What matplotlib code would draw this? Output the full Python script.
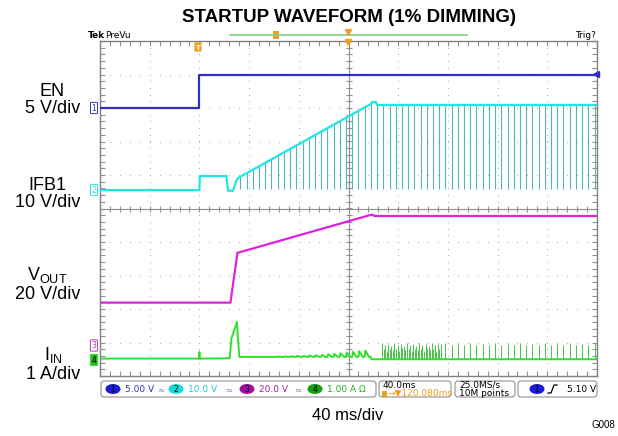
import numpy as np
import matplotlib.pyplot as plt
from matplotlib.patches import FancyBboxPatch, Ellipse, Rectangle

plt.rcParams['mathtext.fontset'] = 'custom'
plt.rcParams['mathtext.rm'] = 'Liberation Sans'

# time base: ms relative to trigger, 40 ms/div, 10 div on screen
t_left, t_right = -80, 320
ms_per_div = 40

# channel scale (units/div) and ground position (div from centre)
ch_scale = {"EN": 5.0, "IFB1": 10.0, "VOUT": 20.0, "IIN": 1.0}
ch_ground = {"EN": 3.0, "IFB1": 0.55, "VOUT": -4.1, "IIN": -4.5}
ch_color = {"EN": "#2f2fc4", "IFB1": "#1ee6e6", "VOUT": "#e020e0", "IIN": "#2ee02e"}

# EN (V)
en_t = [-80, 0, 0, 320]
en_v = [0, 0, 5.0, 5.0]

# IFB1 envelope (V)
ifb_t = [-80, 0, 0.3, 21.7, 23.1, 27.1, 28.5, 30.0, 31.1, 138, 139, 142, 143, 320]
ifb_v = [0, 0, 4.2, 4.2, -0.2, -0.2, 1.5, 3.0, 3.6, 25.7, 26.3, 26.3, 25.4, 25.4]
# PWM dimming notches on IFB1 (ms)
ifb_notch_t = [33, 38, 43, 48, 53, 58, 63, 68, 73, 78, 83, 88, 93, 98, 103, 108,
               113, 118, 123, 128, 133, 138, 143, 148, 153, 158, 163, 168, 173,
               178, 183, 188, 193, 198, 203, 208, 213, 218, 223, 228, 233, 238,
               243, 248, 253, 258, 263, 268, 273, 278, 283, 288, 293, 298, 303,
               308, 313, 318]
ifb_notch_low = 0.3

# VOUT (V)
vout_t = [-80, 25, 30.6, 137, 139, 141, 320]
vout_v = [25.8, 25.8, 55.5, 78.0, 78.3, 77.5, 77.5]

# IIN (A): start-up inrush
iin_t = [-80, -0.4, 0, 0.4, 24.4, 25.8, 30.3, 31.0, 32.2, 137.8, 138.4, 320]
iin_a = [0.02, 0.02, 0.22, 0.02, 0.03, 0.63, 1.11, 0.6, 0.07, 0.07, 0.0, 0.0]
# ripple teeth on IIN during soft start (ms, peak A)
iin_tooth_t = [63, 68, 73, 78, 83, 88, 93, 98, 103, 108, 113, 118, 123, 128, 133]
iin_tooth_a = [0.08, 0.085, 0.09, 0.1, 0.1, 0.11, 0.12, 0.13, 0.15, 0.16, 0.18,
               0.2, 0.22, 0.24, 0.26]
iin_base = 0.07
# inrush spikes on IIN once dimming runs (ms, A)
iin_spike_t = [147.0, 148.3, 149.5, 150.8, 152.0, 153.2, 154.5, 155.8, 157.0,
               158.3, 159.5, 160.8, 162.0, 163.2, 164.5, 165.8, 167.0, 168.3,
               169.5, 170.8, 172.0, 173.2, 174.5, 175.8, 177.0, 178.3, 179.5,
               180.8, 182.0, 183.2, 184.5, 185.8, 187.0, 188.3, 189.5, 190.8,
               192.0, 193.2, 194.5,
               198, 203, 208, 213, 218, 223, 228, 233, 238, 243, 248, 253, 258,
               263, 268, 273, 278, 283, 288, 293, 298, 303, 308, 313, 318]
iin_spike_a = [0.48, 0.3, 0.42, 0.25, 0.47, 0.32, 0.4, 0.28, 0.48, 0.3, 0.44,
               0.26, 0.47, 0.33, 0.4, 0.28, 0.48, 0.3, 0.43, 0.25, 0.47, 0.32,
               0.4, 0.28, 0.48, 0.3, 0.44, 0.26, 0.47, 0.33, 0.4, 0.28, 0.48,
               0.3, 0.43, 0.25, 0.47, 0.32, 0.45,
               0.48, 0.44, 0.47, 0.42, 0.48, 0.44, 0.47, 0.42, 0.48, 0.44, 0.47,
               0.42, 0.48, 0.44, 0.47, 0.42, 0.48, 0.44, 0.47, 0.42, 0.48, 0.44,
               0.47, 0.42, 0.48]


def to_div(ch, vals):
    return ch_ground[ch] + np.asarray(vals, dtype=float) / ch_scale[ch]


fig = plt.figure(figsize=(6.18, 4.36), dpi=100)
ax = fig.add_axes([100 / 618, 1 - 376 / 436, 497 / 618, 335 / 436])
ax.set_xlim(t_left, t_right)
ax.set_ylim(-5, 5)

# graticule
grid_c = "#b4b4b4"
xs_minor = np.arange(t_left, t_right + 0.1, ms_per_div / 5)
ys_minor = np.arange(-5, 5.01, 0.2)
for k in range(1, 10):
    x = t_left + k * ms_per_div
    if k == 5:
        continue
    ax.plot([x] * len(ys_minor), ys_minor, ls="none", marker="s", ms=0.8,
            color=grid_c, mew=0)
for k in range(-4, 5):
    if k == 0:
        continue
    ax.plot(xs_minor, [k] * len(xs_minor), ls="none", marker="s", ms=0.8,
            color=grid_c, mew=0)
x_mid = (t_left + t_right) / 2
ax.axvline(x_mid, color="#909090", lw=0.8)
ax.axhline(0, color="#909090", lw=0.8)
ax.plot([x_mid] * len(ys_minor), ys_minor, ls="none", marker="_", ms=5,
        color="#909090", mew=0.8)
ax.plot(xs_minor, [0] * len(xs_minor), ls="none", marker="|", ms=5,
        color="#909090", mew=0.8)
ax.set_xticks(np.arange(t_left, t_right + 1, ms_per_div))
ax.set_yticks(np.arange(-5, 6, 1))
ax.set_xticks(xs_minor, minor=True)
ax.set_yticks(ys_minor, minor=True)
ax.tick_params(which="both", direction="in", length=3.5, width=0.8,
               color="#909090", top=True, right=True, labelleft=False,
               labelbottom=False)
for s in ax.spines.values():
    s.set_color("#808080")
    s.set_linewidth(1.0)

# traces
ax.plot(en_t, to_div("EN", en_v), color=ch_color["EN"], lw=1.6, zorder=5)
ifb_y = to_div("IFB1", ifb_v)
ifb_top = np.interp(ifb_notch_t, ifb_t, ifb_y)
ax.vlines(ifb_notch_t, to_div("IFB1", [ifb_notch_low]), ifb_top,
          color="#58b4b4", lw=0.8, zorder=4)
ax.plot(ifb_t, ifb_y, color=ch_color["IFB1"], lw=1.6, zorder=5)
ax.plot(vout_t, to_div("VOUT", vout_v), color=ch_color["VOUT"], lw=1.6, zorder=5)

# IIN: base trace with ripple teeth inserted at the read tooth positions
tt, aa = list(iin_t[:9]), list(iin_a[:9])
for t0, a0 in zip(iin_tooth_t, iin_tooth_a):
    tt += [t0, t0 + 0.6, t0 + 3.5]
    aa += [iin_base, a0, iin_base]
tt += iin_t[9:]
aa += iin_a[9:]
ax.vlines(iin_spike_t, to_div("IIN", [0.0]), to_div("IIN", iin_spike_a),
          color="#48c448", lw=0.7, zorder=4)
ax.plot(tt, to_div("IIN", aa), color=ch_color["IIN"], lw=1.4, zorder=5)
# trigger level marker on EN
ax.plot([t_right - 1], [to_div("EN", [5.1])[0]], marker="<", ms=4,
        color=ch_color["EN"], clip_on=False, zorder=6)

# overlay in pixel coordinates for scope read-outs and labels
ov = fig.add_axes([0, 0, 1, 1], zorder=10)
ov.set_xlim(0, 618)
ov.set_ylim(436, 0)
ov.axis("off")
ov.patch.set_alpha(0)

lab = dict(family="Liberation Sans", color="black")
ov.text(349, 18, "STARTUP WAVEFORM (1% DIMMING)", ha="center", va="center",
        fontsize=13.5, weight="bold", **lab)
for txt, yc in [("EN\n5 V/div", 100), ("IFB1\n10 V/div", 194),
                ("V$_{\\mathregular{OUT}}$\n20 V/div", 284),
                ("I$_{\\mathregular{IN}}$\n1 A/div", 364)]:
    ov.text(80, yc, txt, ha="right", va="center", multialignment="center",
            fontsize=13, linespacing=1.05, **lab)
ov.text(348, 415, "40 ms/div", ha="center", va="center", fontsize=12, **lab)
ov.text(603, 425, "G008", ha="center", va="center", fontsize=7, **lab)

# top read-out
ov.text(88, 35, "Tek", ha="left", va="center", fontsize=6.5, weight="bold")
ov.text(105, 35, "PreVu", ha="left", va="center", fontsize=6.5)
ov.text(596, 35, "Trig?", ha="right", va="center", fontsize=6.5)
ov.plot([230, 467], [35, 35], color="#7fd07f", lw=1.2)
orange = "#f0a020"
ov.add_patch(FancyBboxPatch((273.5, 31.5), 5, 7, boxstyle="round,pad=0.5",
                            fc=orange, ec="none"))
ov.plot([348], [32], marker="v", ms=4, color=orange)
ov.plot([348], [42], marker="v", ms=4, color=orange)
ov.add_patch(FancyBboxPatch((195, 43), 6, 8, boxstyle="round,pad=0.6",
                            fc=orange, ec="none"))
ov.text(198, 47.5, "T", ha="center", va="center", fontsize=5, color="white",
        weight="bold")

# channel ground markers
for num, ch, y in [("1", "EN", 108), ("2", "IFB1", 190), ("3", "VOUT", 345.5),
                   ("4", "IIN", 360)]:
    c = ch_color[ch] if ch != "VOUT" else "#b040b0"
    fill = "#22bb22" if ch == "IIN" else "white"
    ov.text(94, y, num, ha="center", va="center", fontsize=5.5,
            color="black" if ch == "IIN" else c,
            bbox=dict(boxstyle="round,pad=0.15", fc=fill, ec=c, lw=0.7))

# bottom status bar
box_ec = "#909090"
for x0, x1 in [(101, 376), (379, 451), (455, 515), (518, 597)]:
    ov.add_patch(FancyBboxPatch((x0, 381), x1 - x0, 16,
                                boxstyle="round,pad=0,rounding_size=3",
                                fc="white", ec=box_ec, lw=0.8))
sb = dict(fontsize=6.5, va="center", ha="left")
for xc, num, fc, txt, tc in [(113, "1", "#1c1cd8", "5.00 V", "#3232c0"),
                             (176, "2", "#1ad8d8", "10.0 V", "#1ec8c8"),
                             (247, "3", "#a010a0", "20.0 V", "#a020a0"),
                             (315, "4", "#10a010", "1.00 A \u03a9", "#20b020")]:
    ov.add_patch(Ellipse((xc, 389), 15, 10, fc=fc, ec="none"))
    ov.text(xc, 389.5, num, ha="center", va="center", fontsize=5.5, color="black")
    ov.text(xc + 12, 389.5, txt, color=tc, **sb)
for xi in [161, 229, 298]:
    ov.text(xi, 389.5, "\u2248", ha="center", va="center", fontsize=6,
            color="#8080c0")
ov.text(383, 385, "40.0ms", color="black", **sb)
ov.add_patch(Rectangle((382, 390.5), 5, 6, fc=orange, ec="none"))
ov.text(388, 393.5, "\u2192\u25bc120.080ms", color=orange, **sb)
ov.text(459, 385, "25.0MS/s", color="black", **sb)
ov.text(459, 393.5, "10M points", color="black", **sb)
ov.add_patch(Ellipse((537, 389), 15, 10, fc="#1c1cd8", ec="none"))
ov.text(537, 389.5, "1", ha="center", va="center", fontsize=5.5, color="black")
ov.plot([548, 551, 554, 557], [393, 393, 385, 385], color="black", lw=0.9)
ov.text(596, 389.5, "5.10 V", ha="right", va="center", fontsize=6.5,
        color="black")

fig.savefig("out.png", dpi=100)
